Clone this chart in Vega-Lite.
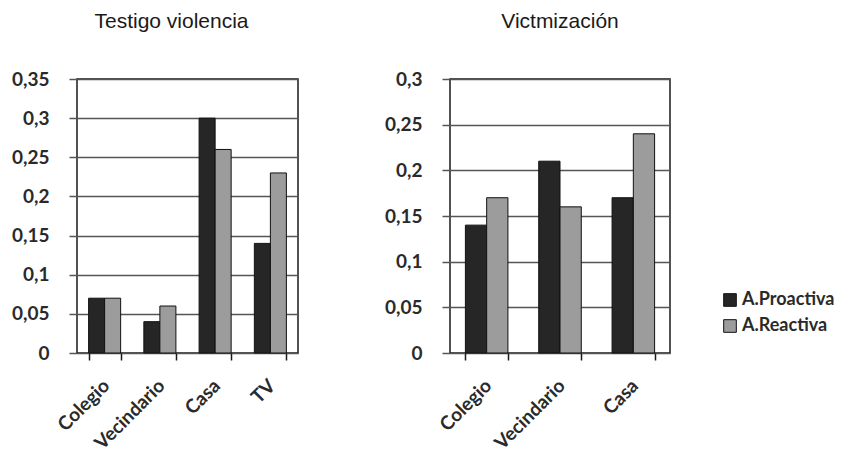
{
  "$schema": "https://vega.github.io/schema/vega-lite/v6.json",
  "background": "white",
  "padding": {"left": 10, "top": 10, "right": 4, "bottom": 0},
  "datasets": {
    "testigo": [
      {"lugar": "Colegio", "tipo": "A.Proactiva", "valor": 0.07},
      {"lugar": "Colegio", "tipo": "A.Reactiva", "valor": 0.07},
      {"lugar": "Vecindario", "tipo": "A.Proactiva", "valor": 0.04},
      {"lugar": "Vecindario", "tipo": "A.Reactiva", "valor": 0.06},
      {"lugar": "Casa", "tipo": "A.Proactiva", "valor": 0.30},
      {"lugar": "Casa", "tipo": "A.Reactiva", "valor": 0.26},
      {"lugar": "TV", "tipo": "A.Proactiva", "valor": 0.14},
      {"lugar": "TV", "tipo": "A.Reactiva", "valor": 0.23}
    ],
    "victimizacion": [
      {"lugar": "Colegio", "tipo": "A.Proactiva", "valor": 0.14},
      {"lugar": "Colegio", "tipo": "A.Reactiva", "valor": 0.17},
      {"lugar": "Vecindario", "tipo": "A.Proactiva", "valor": 0.21},
      {"lugar": "Vecindario", "tipo": "A.Reactiva", "valor": 0.16},
      {"lugar": "Casa", "tipo": "A.Proactiva", "valor": 0.17},
      {"lugar": "Casa", "tipo": "A.Reactiva", "valor": 0.24}
    ]
  },
  "bounds": "flush",
  "spacing": 152,
  "hconcat": [
    {
      "data": {"name": "testigo"},
      "width": 221,
      "height": 274,
      "title": {"text": "Testigo violencia", "dx": -16},
      "mark": {"type": "bar", "stroke": "#111111", "strokeWidth": 1},
      "encoding": {
        "x": {
          "field": "lugar",
          "type": "nominal",
          "sort": ["Colegio", "Vecindario", "Casa", "TV"],
          "scale": {"paddingInner": 0.42, "paddingOuter": 0.21},
          "title": null
        },
        "xOffset": {"field": "tipo", "type": "nominal", "sort": ["A.Proactiva", "A.Reactiva"]},
        "y": {
          "field": "valor",
          "type": "quantitative",
          "scale": {"domain": [0, 0.35], "nice": false},
          "axis": {"values": [0, 0.05, 0.1, 0.15, 0.2, 0.25, 0.3, 0.35]},
          "title": null
        },
        "color": {
          "field": "tipo",
          "type": "nominal",
          "scale": {"domain": ["A.Proactiva", "A.Reactiva"], "range": ["#262626", "#9c9c9c"]},
          "legend": {
            "title": null,
            "orient": "none",
            "legendX": 644,
            "legendY": 212,
            "symbolType": "square",
            "symbolSize": 160,
            "symbolStrokeColor": "#111111",
            "symbolStrokeWidth": 1,
            "labelFont": "Lato",
            "labelFontSize": 18,
            "labelFontWeight": "bold",
            "labelColor": "#2a2a2a",
            "rowPadding": 8,
            "labelOffset": 3
          }
        }
      }
    },
    {
      "data": {"name": "victimizacion"},
      "width": 220,
      "height": 274,
      "title": {"text": "Victmización", "dx": 0},
      "mark": {"type": "bar", "stroke": "#111111", "strokeWidth": 1},
      "encoding": {
        "x": {
          "field": "lugar",
          "type": "nominal",
          "sort": ["Colegio", "Vecindario", "Casa"],
          "scale": {"paddingInner": 0.42, "paddingOuter": 0.21},
          "title": null
        },
        "xOffset": {"field": "tipo", "type": "nominal", "sort": ["A.Proactiva", "A.Reactiva"]},
        "y": {
          "field": "valor",
          "type": "quantitative",
          "scale": {"domain": [0, 0.3], "nice": false},
          "axis": {"values": [0, 0.05, 0.1, 0.15, 0.2, 0.25, 0.3]},
          "title": null
        },
        "color": {"field": "tipo", "type": "nominal"}
      }
    }
  ],
  "resolve": {"scale": {"x": "independent", "y": "independent", "xOffset": "independent"}},
  "config": {
    "view": {"stroke": "#1a1a1a", "strokeWidth": 1.5},
    "title": {
      "font": "Liberation Sans",
      "fontSize": 21,
      "fontWeight": "normal",
      "color": "#1a1a1a",
      "anchor": "middle",
      "offset": 38
    },
    "axisY": {
      "domain": false,
      "grid": true,
      "gridColor": "#555555",
      "gridWidth": 1.5,
      "tickColor": "#555555",
      "tickWidth": 1.5,
      "tickSize": 8,
      "labelFont": "Lato",
      "labelFontSize": 19,
      "labelFontWeight": "bold",
      "labelColor": "#2a2a2a",
      "labelPadding": 20,
      "labelExpr": "replace(format(datum.value, '.2~f'), '.', ',')"
    },
    "axisX": {
      "domain": false,
      "grid": false,
      "tickBand": "extent",
      "tickColor": "#1a1a1a",
      "tickWidth": 1.5,
      "tickSize": 7,
      "labelAngle": -45,
      "labelFont": "Lato",
      "labelFontSize": 19,
      "labelFontWeight": "bold",
      "labelColor": "#2a2a2a",
      "labelPadding": 16,
      "labelOffset": -5
    }
  }
}
